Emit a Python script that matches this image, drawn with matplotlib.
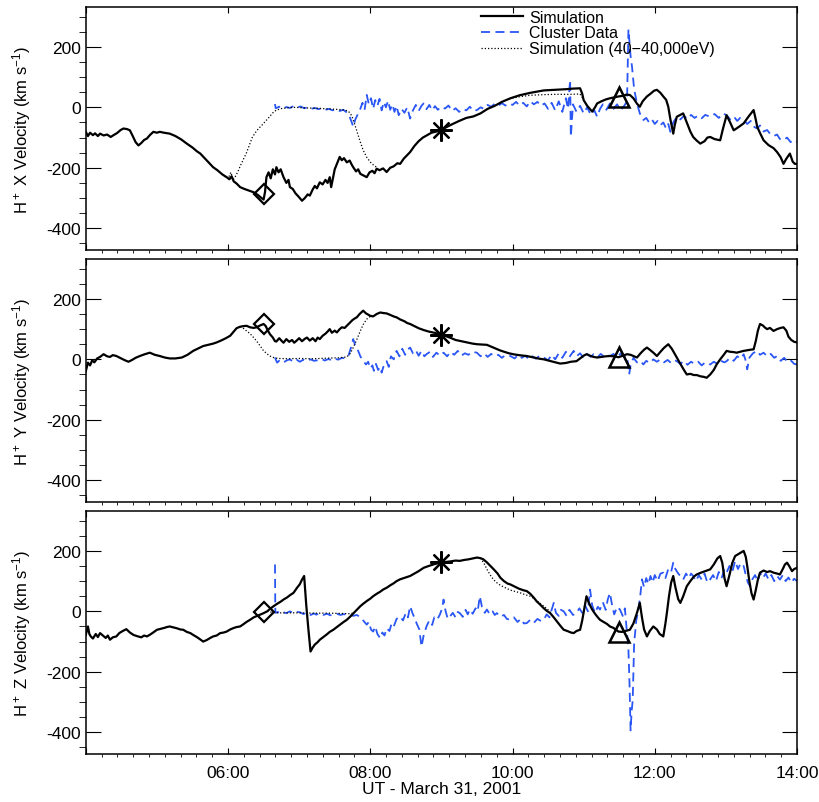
"""H+ velocity components: simulation vs Cluster data, 31 March 2001."""

import numpy as np
import matplotlib

matplotlib.use("Agg")
import matplotlib.pyplot as plt
from matplotlib.ticker import MultipleLocator, AutoMinorLocator, FuncFormatter

plt.rcParams["font.family"] = ["Liberation Sans", "DejaVu Sans"]
plt.rcParams["mathtext.default"] = "regular"
plt.rcParams["axes.unicode_minus"] = False

BLUE = "#2a56f5"

# ---- X component (UT hours, km/s) -----------------------------------------
X_SIM_T = [4.00, 4.03, 4.06, 4.10, 4.13, 4.17, 4.20, 4.25, 4.30, 4.35, 4.39, 4.44, 4.49, 4.53, 4.58,
           4.62, 4.66, 4.70, 4.74, 4.78, 4.82, 4.86, 4.90, 4.95, 5.00, 5.04, 5.10, 5.18, 5.26, 5.34,
           5.42, 5.50, 5.56, 5.61, 5.67, 5.73, 5.79, 5.85, 5.92, 5.98, 6.02, 6.05, 6.08, 6.12, 6.17,
           6.23, 6.30, 6.36, 6.42, 6.47, 6.50, 6.52, 6.54, 6.57, 6.60, 6.63, 6.66, 6.68, 6.71, 6.74,
           6.78, 6.82, 6.85, 6.87, 6.91, 6.95, 6.99, 7.04, 7.08, 7.12, 7.15, 7.19, 7.22, 7.25, 7.29,
           7.33, 7.37, 7.40, 7.43, 7.45, 7.47, 7.50, 7.53, 7.55, 7.57, 7.60, 7.63, 7.67, 7.71, 7.74,
           7.76, 7.80, 7.83, 7.86, 7.90, 7.95, 7.99, 8.03, 8.06, 8.09, 8.13, 8.18, 8.23, 8.28, 8.33,
           8.38, 8.42, 8.47, 8.52, 8.56, 8.62, 8.68, 8.74, 8.80, 8.86, 8.93, 8.98, 9.05, 9.15, 9.25,
           9.35, 9.45, 9.55, 9.65, 9.75, 9.85, 9.97, 10.1, 10.25, 10.44, 10.6, 10.75, 10.85, 10.95, 10.98,
           11.00, 11.05, 11.12, 11.16, 11.19, 11.25, 11.31, 11.37, 11.43, 11.49, 11.55, 11.60, 11.65, 11.70, 11.75,
           11.79, 11.83, 11.89, 11.94, 11.99, 12.03, 12.08, 12.12, 12.16, 12.19, 12.22, 12.26, 12.28, 12.31, 12.36,
           12.40, 12.45, 12.50, 12.54, 12.59, 12.64, 12.70, 12.74, 12.78, 12.84, 12.92, 12.96, 13.01, 13.06, 13.11,
           13.18, 13.25, 13.32, 13.39, 13.42, 13.44, 13.48, 13.53, 13.60, 13.67, 13.72, 13.77, 13.81, 13.85, 13.90,
           13.94, 13.97, 14.00]
X_SIM_V = [-81, -95, -84, -92, -86, -95, -87, -93, -90, -98, -92, -85, -75, -70, -72,
           -76, -95, -115, -126, -118, -108, -103, -92, -81, -84, -81, -84, -87, -95, -106,
           -120, -133, -145, -153, -168, -183, -198, -208, -222, -231, -238, -228, -245, -252, -264,
           -270, -276, -281, -290, -300, -305, -280, -231, -215, -235, -205, -222, -198, -215, -205,
           -231, -250, -240, -264, -270, -285, -295, -309, -300, -288, -292, -272, -260, -268, -248,
           -255, -240, -250, -231, -264, -240, -205, -187, -175, -164, -175, -168, -182, -176, -190,
           -198, -212, -205, -220, -225, -231, -215, -210, -218, -203, -208, -202, -214, -200, -195,
           -185, -187, -170, -158, -148, -128, -112, -100, -92, -84, -80, -76, -68, -56, -45,
           -35, -30, -20, -5, 5, 18, 30, 40, 48, 56, 58, 60, 62, 63, 45,
           24, 5, -14, 0, 13, 20, 26, 30, 33, 36, 38, 42, 41, 30, 12,
           2, 20, 36, 45, 55, 58, 48, 36, 25, 2, -40, -87, -60, -31, -25,
           -20, -50, -80, -98, -110, -120, -112, -100, -98, -105, -109, -70, -26, -50, -76,
           -65, -53, -30, -9, -40, -64, -85, -109, -125, -135, -148, -165, -187, -170, -153,
           -180, -187, -187]

X_LOW_T = [5.95, 6.00, 6.04, 6.07, 6.10, 6.14, 6.18, 6.22, 6.26, 6.30, 6.34, 6.38, 6.43, 6.48, 6.53,
           6.58, 6.63, 6.68, 6.75, 6.85, 6.95, 7.10, 7.25, 7.40, 7.55, 7.65, 7.70, 7.74, 7.78, 7.82,
           7.86, 7.90, 7.95, 8.00, 8.05, 8.10, np.nan, 9.95, 10.1, 10.25, 10.44, 10.6, 10.8, 10.95, 11.0]
X_LOW_V = [-228, -236, -215, -240, -230, -212, -190, -170, -150, -125, -100, -85, -70, -58, -45,
           -32, -18, -9, -4, -1, 0, -2, -3, -5, -7, -9, -15, -28, -55, -85,
           -115, -142, -165, -181, -192, -200, np.nan, 28, 35, 40, 42, 43, 43, 44, 25]

X_OBS_T = [6.66, 6.67, 6.72, 6.77, 6.82, 6.87, 6.92, 6.97, 7.02, 7.07, 7.12, 7.17, 7.22, 7.27, 7.32,
           7.37, 7.42, 7.47, 7.52, 7.57, 7.62, 7.66, 7.70, 7.74, 7.76, 7.79, 7.83, 7.86, 7.89, 7.92,
           7.95, 7.98, 8.01, 8.04, 8.07, 8.10, 8.13, 8.16, 8.19, 8.22, 8.25, 8.28, 8.31, 8.34, 8.37,
           8.40, 8.44, 8.48, 8.52, 8.56, 8.60, 8.64, 8.68, 8.72, 8.75, 8.79, 8.83, 8.87, 8.91, 8.95,
           9.00, 9.05, 9.10, 9.15, 9.20, 9.25, 9.30, 9.35, 9.40, 9.45, 9.50, 9.55, 9.60, 9.65, 9.70,
           9.75, 9.80, 9.85, 9.90, 9.95, 10.0, 10.05, 10.1, 10.15, 10.2, 10.25, 10.3, 10.35, 10.4, 10.45,
           10.5, 10.55, 10.6, 10.65, 10.70, 10.75, 10.78, 10.81, 10.82, 10.85, 10.9, 10.95, 11.0, 11.05, 11.1,
           11.15, 11.19, 11.23, 11.27, 11.32, 11.37, 11.42, 11.47, 11.52, 11.57, 11.61, 11.63, 11.66, 11.68, 11.71,
           11.75, 11.79, 11.84, 11.88, 11.92, 11.96, 12.0, 12.04, 12.08, 12.12, 12.16, 12.19, 12.22, 12.26, 12.31,
           12.36, 12.41, 12.46, 12.51, 12.56, 12.61, 12.66, 12.71, 12.78, 12.84, 12.90, 12.96, 13.01, 13.06, 13.11,
           13.16, 13.20, 13.25, 13.30, 13.35, 13.40, 13.44, 13.48, 13.53, 13.58, 13.62, 13.67, 13.72, 13.76, 13.81,
           13.86, 13.91, 13.96, 14.0]
X_OBS_V = [11, -3, 2, -4, 1, -2, 4, -1, 3, -3, 0, -5, -2, -6, -3,
           -8, -5, -10, -6, -12, -8, -15, -25, -50, -64, -40, -20, -5, 15, -8,
           41, 10, 30, -5, 24, 5, 28, -10, 18, 0, 22, -8, 10, -15, 5,
           -26, -5, -18, 0, -37, -10, 8, -12, 5, 13, -6, 8, -10, 4, -8,
           2, -4, 6, -12, -3, -15, -5, -10, 2, -12, -9, 0, -5, 8, 2,
           12, 5, 14, 6, 13, 8, 18, 6, 15, 3, 20, 10, 18, 5, 13,
           -5, 15, -10, 20, -15, 30, -5, 91, -98, 10, -15, 5, -20, 0, -25,
           -10, -31, -5, 10, -8, 13, -5, 10, -10, 5, 20, 258, 170, 135, 60,
           13, -20, -42, -35, -50, -40, -55, -45, -59, -50, -70, -55, -81, -50, -31,
           -40, -28, -38, -25, -35, -27, -36, -25, -31, -22, -35, -20, -26, -40, -30,
           -45, -35, -42, -55, -45, -65, -70, -60, -80, -75, -87, -95, -90, -105, -109,
           -100, -115, -108, -114]

# ---- Y component -----------------------------------------------------------
Y_SIM_T = [4.00, 4.03, 4.06, 4.09, 4.12, 4.16, 4.20, 4.25, 4.30, 4.34, 4.38, 4.43, 4.48, 4.54, 4.60,
           4.65, 4.70, 4.76, 4.83, 4.90, 4.97, 5.04, 5.11, 5.18, 5.26, 5.35, 5.43, 5.51, 5.58, 5.65,
           5.72, 5.79, 5.84, 5.90, 5.97, 6.03, 6.08, 6.12, 6.17, 6.22, 6.26, 6.31, 6.36, 6.40, 6.45,
           6.50, 6.53, 6.56, 6.59, 6.63, 6.66, 6.68, 6.72, 6.75, 6.78, 6.82, 6.86, 6.90, 6.93, 6.96,
           7.00, 7.04, 7.08, 7.11, 7.15, 7.19, 7.23, 7.26, 7.29, 7.33, 7.37, 7.40, 7.43, 7.46, 7.50,
           7.53, 7.57, 7.60, 7.64, 7.67, 7.71, 7.75, 7.78, 7.81, 7.85, 7.90, 7.94, 7.97, 8.00, 8.04,
           8.09, 8.14, 8.19, 8.23, 8.29, 8.34, 8.37, 8.42, 8.48, 8.52, 8.56, 8.62, 8.68, 8.75, 8.82,
           8.90, 8.98, 9.06, 9.14, 9.20, 9.26, 9.32, 9.38, 9.44, 9.50, 9.57, 9.64, 9.70, 9.76, 9.82,
           9.87, 9.95, 10.03, 10.12, 10.20, 10.30, 10.38, 10.44, 10.52, 10.60, 10.67, 10.75, 10.82, 10.90, 10.96,
           11.00, 11.04, 11.09, 11.14, 11.19, 11.25, 11.31, 11.37, 11.43, 11.49, 11.55, 11.61, 11.66, 11.71, 11.75,
           11.80, 11.85, 11.89, 11.94, 11.99, 12.03, 12.08, 12.13, 12.19, 12.24, 12.28, 12.31, 12.36, 12.41, 12.45,
           12.50, 12.55, 12.59, 12.64, 12.69, 12.73, 12.78, 12.83, 12.87, 12.92, 12.97, 13.01, 13.06, 13.11, 13.15,
           13.20, 13.25, 13.30, 13.35, 13.39, 13.42, 13.45, 13.48, 13.52, 13.55, 13.58, 13.62, 13.67, 13.72, 13.77,
           13.81, 13.85, 13.88, 13.92, 13.96, 14.0]
Y_SIM_V = [-39, -11, -20, -3, -10, 3, 8, 17, 10, 8, 14, 11, 5, -2, -8,
           -2, 5, 11, 17, 22, 15, 11, 6, 3, 3, 6, 15, 28, 36, 44,
           48, 52, 56, 62, 70, 78, 92, 103, 108, 110, 111, 106, 104, 106, 112,
           117, 110, 95, 83, 72, 60, 59, 70, 62, 55, 67, 58, 64, 55, 61,
           70, 60, 68, 72, 62, 70, 60, 72, 67, 78, 85, 92, 100, 88, 95,
           89, 100, 106, 104, 111, 120, 130, 135, 139, 150, 161, 152, 148, 144, 142,
           150, 155, 153, 152, 146, 141, 139, 132, 126, 120, 117, 110, 103, 97, 92,
           88, 83, 77, 70, 64, 61, 58, 55, 52, 50, 49, 48, 42, 36, 30,
           26, 20, 16, 13, 11, 6, 2, 0, -5, -10, -14, -12, -8, -6, 5,
           12, 17, 12, 8, 6, 8, 10, 11, 10, 7, 12, 17, 15, 10, 6,
           20, 32, 39, 30, 20, 11, 25, 38, 50, 35, 18, 6, -15, -35, -50,
           -48, -52, -52, -56, -58, -61, -50, -35, -17, 0, 15, 28, 25, 24, 22,
           25, 28, 30, 32, 33, 60, 95, 117, 112, 105, 100, 104, 94, 100, 104,
           106, 95, 75, 64, 58, 56]

Y_LOW_T = [6.17, 6.22, 6.27, 6.31, 6.36, 6.40, 6.45, 6.50, 6.55, 6.59, 6.64, 6.70, 6.85, 7.00, 7.20,
           7.40, 7.55, 7.67, 7.72, 7.76, 7.81, 7.86, 7.90, 7.95, 8.00, 8.04]
Y_LOW_V = [108, 102, 92, 85, 72, 61, 45, 28, 18, 11, 6, 3, 2, 3, 2,
           4, 5, 8, 20, 39, 65, 94, 115, 133, 142, 143]

Y_OBS_T = [6.66, 6.69, 6.73, 6.78, 6.83, 6.87, 6.92, 6.97, 7.01, 7.06, 7.11, 7.16, 7.21, 7.26, 7.31,
           7.36, 7.41, 7.46, 7.50, 7.55, 7.60, 7.65, 7.69, 7.73, 7.76, 7.79, 7.83, 7.86, 7.90, 7.94,
           7.97, 8.00, 8.03, 8.05, 8.08, 8.11, 8.14, 8.16, 8.19, 8.23, 8.26, 8.29, 8.33, 8.37, 8.41,
           8.45, 8.49, 8.53, 8.56, 8.60, 8.64, 8.68, 8.72, 8.76, 8.79, 8.84, 8.88, 8.93, 8.98, 9.03,
           9.08, 9.13, 9.18, 9.23, 9.28, 9.33, 9.38, 9.43, 9.50, 9.55, 9.60, 9.65, 9.70, 9.75, 9.80,
           9.85, 9.90, 9.97, 10.03, 10.08, 10.13, 10.18, 10.23, 10.28, 10.33, 10.38, 10.44, 10.50, 10.55, 10.60,
           10.65, 10.70, 10.75, 10.80, 10.86, 10.90, 10.95, 11.00, 11.05, 11.10, 11.14, 11.19, 11.24, 11.29, 11.33,
           11.37, 11.42, 11.47, 11.52, 11.57, 11.61, 11.64, 11.66, 11.70, 11.75, 11.80, 11.84, 11.88, 11.93, 11.98,
           12.03, 12.08, 12.13, 12.18, 12.23, 12.28, 12.31, 12.36, 12.41, 12.46, 12.51, 12.56, 12.61, 12.66, 12.71,
           12.78, 12.83, 12.88, 12.93, 12.98, 13.01, 13.06, 13.11, 13.16, 13.21, 13.25, 13.28, 13.30, 13.33, 13.38,
           13.44, 13.48, 13.53, 13.58, 13.63, 13.68, 13.72, 13.77, 13.82, 13.87, 13.92, 13.96, 14.0]
Y_OBS_V = [6, -11, -2, -10, -3, 0, -9, -2, -8, -1, -6, 0, -5, -3, 2,
           -4, 1, -3, 2, -1, 5, 3, 10, 40, 67, 45, 28, 10, -5, -17,
           -8, -30, -20, -38, -15, -35, -25, -44, -20, -6, -25, 10, 0, 28, 10,
           35, 15, 33, 39, 20, 30, 12, 28, 10, 17, 25, 8, 22, 12, 22,
           10, 25, 15, 28, 12, 20, 15, 25, 22, 10, 20, 8, 18, 10, 15,
           5, 14, 11, 3, 15, 5, 12, 0, 10, 2, 12, 6, -3, 15, 0,
           20, 5, 25, 8, 28, 10, 20, 5, 18, 8, 17, 5, 18, 8, 15,
           11, 18, 5, 20, 8, 10, -50, -20, 5, -10, -5, -17, -5, -12, 0,
           -8, 0, -10, -2, -12, -3, -6, -15, -5, -18, -8, -15, -8, -20, -10,
           -17, -8, -15, -5, -10, -6, 5, -5, 10, 2, 17, -5, -33, 5, 20,
           28, 15, 22, 10, 18, 5, 11, -5, 5, -10, -5, -15, -17]

# ---- Z component -----------------------------------------------------------
Z_SIM_T = [4.00, 4.02, 4.03, 4.05, 4.07, 4.10, 4.14, 4.17, 4.20, 4.24, 4.28, 4.31, 4.34, 4.38, 4.43,
           4.47, 4.52, 4.57, 4.62, 4.67, 4.72, 4.78, 4.82, 4.86, 4.91, 4.96, 5.00, 5.05, 5.10, 5.14,
           5.18, 5.23, 5.28, 5.33, 5.37, 5.42, 5.47, 5.51, 5.56, 5.61, 5.65, 5.70, 5.75, 5.79, 5.84,
           5.89, 5.94, 5.98, 6.03, 6.08, 6.12, 6.17, 6.22, 6.26, 6.31, 6.36, 6.41, 6.46, 6.50, 6.55,
           6.60, 6.64, 6.69, 6.74, 6.78, 6.83, 6.88, 6.92, 6.97, 7.01, 7.04, 7.07, 7.10, 7.13, 7.16,
           7.19, 7.22, 7.26, 7.29, 7.34, 7.39, 7.43, 7.48, 7.53, 7.58, 7.62, 7.67, 7.72, 7.77, 7.81,
           7.86, 7.90, 7.95, 8.00, 8.04, 8.09, 8.14, 8.18, 8.23, 8.28, 8.33, 8.37, 8.42, 8.47, 8.52,
           8.56, 8.62, 8.68, 8.75, 8.82, 8.90, 8.98, 9.05, 9.12, 9.20, 9.26, 9.32, 9.38, 9.44, 9.50,
           9.55, 9.59, 9.64, 9.69, 9.74, 9.79, 9.83, 9.88, 9.93, 9.97, 10.03, 10.09, 10.15, 10.20, 10.25,
           10.30, 10.34, 10.39, 10.44, 10.48, 10.53, 10.58, 10.63, 10.68, 10.72, 10.77, 10.82, 10.86, 10.90, 10.95,
           10.98, 11.01, 11.04, 11.07, 11.10, 11.12, 11.16, 11.20, 11.23, 11.28, 11.33, 11.37, 11.42, 11.46, 11.49,
           11.54, 11.60, 11.65, 11.70, 11.75, 11.79, 11.82, 11.85, 11.89, 11.93, 11.98, 12.03, 12.07, 12.12, 12.15,
           12.17, 12.20, 12.23, 12.26, 12.29, 12.33, 12.36, 12.40, 12.45, 12.50, 12.55, 12.59, 12.65, 12.71, 12.78,
           12.83, 12.88, 12.92, 12.95, 12.98, 13.01, 13.05, 13.09, 13.13, 13.18, 13.22, 13.25, 13.28, 13.30, 13.33,
           13.36, 13.39, 13.42, 13.45, 13.48, 13.53, 13.58, 13.62, 13.67, 13.72, 13.76, 13.80, 13.83, 13.86, 13.89,
           13.93, 13.96, 14.0]
Z_SIM_V = [-78, -60, -50, -75, -83, -90, -75, -85, -72, -80, -88, -80, -94, -86, -83,
           -72, -65, -59, -70, -78, -82, -86, -80, -83, -76, -68, -61, -58, -55, -52,
           -50, -53, -56, -60, -61, -68, -72, -78, -85, -93, -100, -95, -88, -83, -80,
           -72, -70, -67, -60, -55, -52, -50, -42, -35, -28, -20, -15, -10, -6, 0,
           10, 17, 25, 32, 39, 46, 55, 61, 78, 90, 105, 117, 20, -60, -133,
           -120, -110, -102, -94, -85, -76, -68, -61, -52, -43, -36, -28, -17, -5, 5,
           17, 25, 34, 42, 50, 58, 65, 72, 78, 86, 93, 100, 106, 110, 114,
           117, 125, 133, 144, 150, 156, 161, 163, 165, 168, 167, 170, 172, 175, 178,
           176, 172, 162, 150, 138, 125, 111, 100, 92, 89, 82, 75, 70, 67, 58,
           45, 33, 22, 10, 2, -6, -20, -35, -50, -61, -65, -70, -72, -65, -61,
           -30, 10, 50, 30, 15, 6, -8, -20, -28, -35, -42, -50, -55, -62, -67,
           -68, -64, -61, -40, -5, 28, -20, -60, -83, -65, -50, -60, -75, -83, -40,
           -6, 50, 95, 117, 80, 40, 28, 50, 83, 100, 115, 122, 128, 133, 139,
           155, 175, 183, 160, 110, 83, 120, 160, 183, 190, 196, 200, 180, 150, 100,
           60, 39, 70, 105, 128, 135, 130, 133, 128, 125, 122, 140, 155, 161, 150,
           133, 140, 144]

Z_LOW_T = [6.55, 6.62, 6.70, 6.85, 7.00, 7.20, 7.40, 7.60, 7.72, 7.77, np.nan,
           9.55, 9.60, 9.65, 9.70, 9.76, 9.83, 9.90, 9.97, 10.05, 10.11, 10.18, 10.25, 10.32, 10.38, 10.44,
           10.50, 10.55]
Z_LOW_V = [0, -3, -5, -5, -5, -6, -6, -7, -8, -5, np.nan,
           176, 158, 135, 115, 98, 86, 78, 70, 65, 61, 55, 50, 40, 28, 17,
           5, -8]

Z_OBS_T = [6.66, 6.665, 6.70, 6.74, 6.78, 6.82, 6.87, 6.92, 6.97, 7.01, 7.06, 7.11, 7.16, 7.21, 7.24,
           7.29, 7.34, 7.39, 7.44, 7.48, 7.53, 7.58, 7.63, 7.67, 7.71, 7.76, 7.81, 7.86, 7.90, 7.95,
           7.98, 8.01, 8.04, 8.07, 8.10, 8.14, 8.17, 8.20, 8.23, 8.27, 8.30, 8.33, 8.37, 8.42, 8.46,
           8.50, 8.53, 8.56, 8.60, 8.63, 8.65, 8.69, 8.72, 8.75, 8.79, 8.83, 8.87, 8.90, 8.94, 8.98,
           9.01, 9.03, 9.06, 9.09, 9.12, 9.16, 9.20, 9.23, 9.26, 9.30, 9.34, 9.37, 9.40, 9.44, 9.48,
           9.51, 9.54, 9.57, 9.61, 9.64, 9.68, 9.72, 9.75, 9.78, 9.83, 9.88, 9.92, 9.97, 10.02, 10.07,
           10.12, 10.16, 10.20, 10.25, 10.30, 10.35, 10.40, 10.44, 10.48, 10.52, 10.55, 10.58, 10.61, 10.65, 10.68,
           10.72, 10.76, 10.80, 10.85, 10.90, 10.94, 10.98, 11.02, 11.06, 11.09, 11.12, 11.16, 11.20, 11.23, 11.27,
           11.31, 11.34, 11.37, 11.40, 11.43, 11.47, 11.51, 11.55, 11.58, 11.61, 11.63, 11.645, 11.66, 11.675, 11.69,
           11.71, 11.74, 11.77, 11.80, 11.82, 11.85, 11.88, 11.91, 11.94, 11.97, 12.00, 12.04, 12.08, 12.12, 12.15,
           12.19, 12.23, 12.26, 12.29, 12.33, 12.36, 12.40, 12.44, 12.48, 12.51, 12.54, 12.58, 12.62, 12.66, 12.70,
           12.74, 12.78, 12.82, 12.86, 12.90, 12.94, 12.98, 13.01, 13.05, 13.09, 13.13, 13.17, 13.21, 13.25, 13.28,
           13.31, 13.34, 13.37, 13.41, 13.45, 13.48, 13.52, 13.56, 13.60, 13.64, 13.68, 13.72, 13.76, 13.80, 13.84,
           13.88, 13.92, 13.96, 14.0]
Z_OBS_V = [155, -5, -2, -8, -3, -6, 0, -6, -2, -3, -9, -4, -12, -7, -11,
           -6, -12, -8, -13, -11, -8, -12, -9, -13, -11, -15, -12, -19, -30, -44,
           -35, -60, -67, -50, -75, -89, -70, -80, -56, -65, -40, -50, -25, -17, -30,
           -5, -20, 17, -10, -25, -39, -60, -117, -80, -50, -30, -45, -20, -28, -10,
           10, 39, 0, -25, -17, -5, -20, -2, -6, -18, 5, -10, 6, -8, 10,
           0, 50, 15, -5, 6, -10, 0, -12, -6, -18, -12, -25, -28, -20, -35,
           -25, -40, -39, -28, -38, -25, -32, -28, -10, -20, 5, 28, -5, -15, 5,
           0, -15, 5, -12, -6, 10, -5, 20, 0, 72, 20, -5, 15, 6, 30,
           5, 40, 61, 20, -10, 15, 6, -15, 10, -72, -128, -239, -394, -330, -294,
           -106, -30, 6, 60, 106, 80, 110, 90, 117, 95, 120, 100, 125, 128, 110,
           140, 130, 161, 140, 125, 117, 105, 125, 110, 125, 117, 100, 120, 105, 125,
           95, 106, 120, 100, 130, 110, 140, 128, 150, 130, 167, 140, 160, 150, 120,
           95, 83, 105, 120, 100, 128, 110, 125, 105, 120, 100, 117, 105, 120, 100,
           112, 95, 108, 100]

# Reference times (diamond, asterisk, triangle) and the simulated value there
MARK_T = [6.5, 9.0, 11.5]
MARK_X = [-287, -76, 33]
MARK_Y = [116, 82, 7]
MARK_Z = [-3, 163, -67]

COMPONENTS = [
    ("X", X_SIM_T, X_SIM_V, X_LOW_T, X_LOW_V, X_OBS_T, X_OBS_V, MARK_X),
    ("Y", Y_SIM_T, Y_SIM_V, Y_LOW_T, Y_LOW_V, Y_OBS_T, Y_OBS_V, MARK_Y),
    ("Z", Z_SIM_T, Z_SIM_V, Z_LOW_T, Z_LOW_V, Z_OBS_T, Z_OBS_V, MARK_Z),
]

W, H = 819, 803
LEFT, RIGHT = 85.8, 797
PANEL_TOPS = [8, 260, 512]
PANEL_H = 243


def ut_label(v, _pos):
    # the left edge (04:00) carries no label
    return "" if v < 5 else f"{int(round(v)):02d}:00"


def style_axis(ax, bottom):
    ax.set_xlim(4, 14)
    ax.set_ylim(-472, 332)
    ax.xaxis.set_major_locator(MultipleLocator(2))
    ax.xaxis.set_minor_locator(AutoMinorLocator(9))
    ax.yaxis.set_major_locator(MultipleLocator(200))
    ax.yaxis.set_minor_locator(MultipleLocator(50))
    ax.tick_params(direction="in", top=True, right=True, width=0.8, labelsize=12.5)
    ax.tick_params(axis="x", which="major", length=4, pad=8)
    ax.tick_params(axis="x", which="minor", length=2)
    ax.tick_params(axis="y", which="major", length=10.5)
    ax.tick_params(axis="y", which="minor", length=5)
    for sp in ax.spines.values():
        sp.set_linewidth(1.1)
    if bottom:
        ax.xaxis.set_major_formatter(FuncFormatter(ut_label))
        ax.set_xlabel("UT - March 31, 2001", fontsize=12.5, labelpad=1)
    else:
        ax.tick_params(axis="x", labelbottom=False)


fig = plt.figure(figsize=(W / 100, H / 100), dpi=100)
for i, (comp, st, sv, lt, lv, ot, ov, mv) in enumerate(COMPONENTS):
    top = PANEL_TOPS[i]
    ax = fig.add_axes([LEFT / W, 1 - (top + PANEL_H) / H, (RIGHT - LEFT) / W, PANEL_H / H])
    (l_sim,) = ax.plot(st, sv, color="k", lw=1.6, zorder=3, label="Simulation")
    (l_obs,) = ax.plot(ot, ov, color=BLUE, lw=1.3, ls=(0, (5, 3)), zorder=2,
                       label="Cluster Data")
    (l_low,) = ax.plot(lt, lv, color="k", lw=0.9, ls=(0, (1, 1.6)), zorder=2,
                       label="Simulation (40\u221240,000eV)")
    ax.plot(MARK_T[0], mv[0], ls="none", marker="D", ms=10, mfc="none", mec="k", mew=1.6, zorder=5)
    ax.plot(MARK_T[1], mv[1], ls="none", marker=(8, 2, 0), ms=16, mec="k", mew=1.6, zorder=5)
    ax.plot(MARK_T[2], mv[2], ls="none", marker="^", ms=14, mfc="none", mec="k", mew=1.8, zorder=5)
    style_axis(ax, bottom=(i == 2))
    ax.set_ylabel(f"H$^+$ {comp} Velocity (km s$^{{-1}}$)", fontsize=12)
    ax.yaxis.set_label_coords(-0.074, 0.5)
    if i == 0:
        ax.legend(handles=[l_sim, l_obs, l_low], loc="upper left", bbox_to_anchor=(0.54, 1.035),
                  frameon=False, fontsize=11.5, handlelength=2.6, handletextpad=0.4,
                  labelspacing=0.05, borderpad=0.2)

fig.savefig("out.png", dpi=100)
